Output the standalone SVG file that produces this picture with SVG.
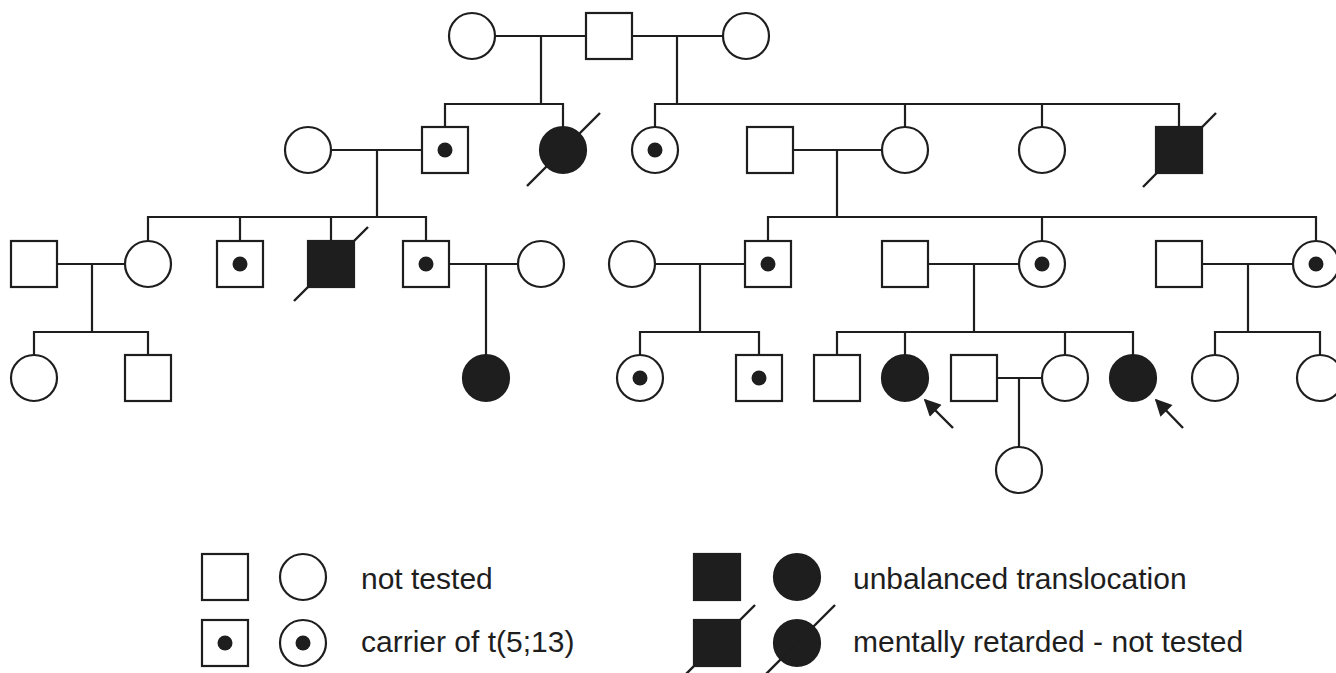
<svg xmlns="http://www.w3.org/2000/svg" width="1336" height="673" viewBox="0 0 1336 673">
<defs>
<style>
.o{fill:#fff;stroke:#1e1e1e;stroke-width:2.2}
.f{fill:#1e1e1e;stroke:#1e1e1e;stroke-width:2.2}
.d{fill:#1e1e1e}
.l{fill:none;stroke:#1e1e1e;stroke-width:2.2}
.s{stroke:#1e1e1e;stroke-width:2.4}
.t{font-family:"Liberation Sans",Arial,sans-serif;font-size:30px;fill:#1e1e1e}
</style>
<marker id="ah" viewBox="0 0 10 10" refX="9" refY="5" markerWidth="7.5" markerHeight="7" orient="auto" markerUnits="strokeWidth">
<path d="M0,0 L10,5 L0,10 z" fill="#1e1e1e"/>
</marker>
</defs>
<rect width="1336" height="673" fill="#fff"/>
<g id="connectors">
<path class="l" d="M495,36H586M632,36H723M541,36V104M677,36V104"/>
<path class="l" d="M445,127V104H563V127"/>
<path class="l" d="M655,127V104H1179V127M905,104V127M1042,104V127"/>
<path class="l" d="M331,150H422M377,150V217M793,150H882M837,150V217"/>
<path class="l" d="M148,241V217H426V241M240,217V241M331,217V241"/>
<path class="l" d="M768,241V217H1316V241M1042,217V241"/>
<path class="l" d="M57,264H125M92,264V332M449,264H518M486,264V355M655,264H745M700,264V332M928,264H1019M974,264V332M1202,264H1293M1248,264V332"/>
<path class="l" d="M34,355V332H148V355"/>
<path class="l" d="M640,355V332H759V355"/>
<path class="l" d="M837,355V332H1133V355M905,332V355M1065,332V355"/>
<path class="l" d="M1215,355V332H1320V355"/>
<path class="l" d="M997,378H1042M1019,378V447"/>
<line class="s" x1="953" y1="428" x2="925" y2="400" marker-end="url(#ah)"/>
<line class="s" x1="1183" y1="428" x2="1156" y2="400" marker-end="url(#ah)"/>
</g>
<g id="g1-f1"><circle class="o" cx="472" cy="36" r="23"/></g>
<g id="g1-m"><rect class="o" x="586" y="13" width="46" height="46"/></g>
<g id="g1-f2"><circle class="o" cx="746" cy="36" r="23"/></g>
<g id="g2-f1"><circle class="o" cx="308" cy="150" r="23"/></g>
<g id="g2-m1"><rect class="o" x="422" y="127" width="46" height="46"/><circle class="d" cx="445" cy="150" r="7.5"/></g>
<g id="g2-f2"><circle class="f" cx="563" cy="150" r="23"/><line class="s" x1="527" y1="186" x2="600" y2="113"/></g>
<g id="g2-f3"><circle class="o" cx="655" cy="150" r="23"/><circle class="d" cx="655" cy="150" r="7.5"/></g>
<g id="g2-m2"><rect class="o" x="747" y="127" width="46" height="46"/></g>
<g id="g2-f4"><circle class="o" cx="905" cy="150" r="23"/></g>
<g id="g2-f5"><circle class="o" cx="1042" cy="150" r="23"/></g>
<g id="g2-m3"><rect class="f" x="1156" y="127" width="46" height="46"/><line class="s" x1="1143" y1="187" x2="1216" y2="113"/></g>
<g id="g3-m1"><rect class="o" x="11" y="241" width="46" height="46"/></g>
<g id="g3-f1"><circle class="o" cx="148" cy="264" r="23"/></g>
<g id="g3-m2"><rect class="o" x="217" y="241" width="46" height="46"/><circle class="d" cx="240" cy="264" r="7.5"/></g>
<g id="g3-m3"><rect class="f" x="308" y="241" width="46" height="46"/><line class="s" x1="294" y1="301" x2="368" y2="227"/></g>
<g id="g3-m4"><rect class="o" x="403" y="241" width="46" height="46"/><circle class="d" cx="426" cy="264" r="7.5"/></g>
<g id="g3-f2"><circle class="o" cx="541" cy="264" r="23"/></g>
<g id="g3-f3"><circle class="o" cx="632" cy="264" r="23"/></g>
<g id="g3-m5"><rect class="o" x="745" y="241" width="46" height="46"/><circle class="d" cx="768" cy="264" r="7.5"/></g>
<g id="g3-m6"><rect class="o" x="882" y="241" width="46" height="46"/></g>
<g id="g3-f4"><circle class="o" cx="1042" cy="264" r="23"/><circle class="d" cx="1042" cy="264" r="7.5"/></g>
<g id="g3-m7"><rect class="o" x="1156" y="241" width="46" height="46"/></g>
<g id="g3-f5"><circle class="o" cx="1316" cy="264" r="23"/><circle class="d" cx="1316" cy="264" r="7.5"/></g>
<g id="g4-f1"><circle class="o" cx="34" cy="378" r="23"/></g>
<g id="g4-m1"><rect class="o" x="125" y="355" width="46" height="46"/></g>
<g id="g4-f2"><circle class="f" cx="486" cy="378" r="23"/></g>
<g id="g4-f3"><circle class="o" cx="640" cy="378" r="23"/><circle class="d" cx="640" cy="378" r="7.5"/></g>
<g id="g4-m2"><rect class="o" x="736" y="355" width="46" height="46"/><circle class="d" cx="759" cy="378" r="7.5"/></g>
<g id="g4-m3"><rect class="o" x="814" y="355" width="46" height="46"/></g>
<g id="g4-f4"><circle class="f" cx="905" cy="378" r="23"/></g>
<g id="g4-m4"><rect class="o" x="951" y="355" width="46" height="46"/></g>
<g id="g4-f5"><circle class="o" cx="1065" cy="378" r="23"/></g>
<g id="g4-f6"><circle class="f" cx="1133" cy="378" r="23"/></g>
<g id="g4-f7"><circle class="o" cx="1215" cy="378" r="23"/></g>
<g id="g4-f8"><circle class="o" cx="1320" cy="378" r="23"/></g>
<g id="g5-f1"><circle class="o" cx="1019" cy="470" r="23"/></g>
<g id="legend">
<rect class="o" x="202" y="554" width="46" height="46"/>
<circle class="o" cx="303" cy="577" r="23"/>
<text class="t" x="361" y="589">not tested</text>
<rect class="o" x="202" y="620" width="46" height="46"/>
<circle class="d" cx="225" cy="643" r="7.5"/>
<circle class="o" cx="303" cy="643" r="23"/>
<circle class="d" cx="303" cy="643" r="7.5"/>
<text class="t" x="361" y="652">carrier of t(5;13)</text>
<rect class="f" x="694" y="554" width="46" height="46"/>
<circle class="f" cx="797" cy="577" r="23"/>
<text class="t" x="853" y="589">unbalanced translocation</text>
<rect class="f" x="694" y="620" width="46" height="46"/>
<line class="s" x1="680" y1="680" x2="755" y2="605"/>
<circle class="f" cx="797" cy="643" r="23"/>
<line class="s" x1="760" y1="680" x2="835" y2="605"/>
<text class="t" x="853" y="652">mentally retarded - not tested</text>
</g>
</svg>
